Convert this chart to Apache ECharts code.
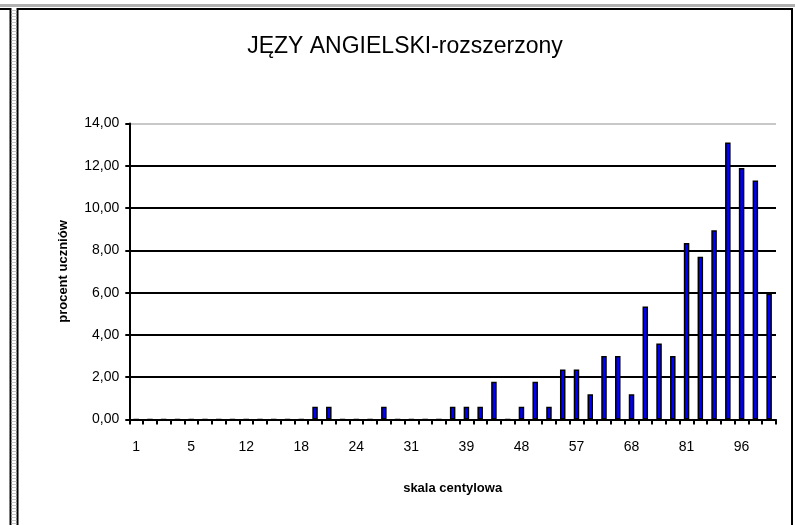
<!DOCTYPE html>
<html>
<head>
<meta charset="utf-8">
<script src="https://cdn.jsdelivr.net/npm/echarts@6/dist/echarts.min.js"></script>
<style>
html,body{margin:0;padding:0;background:#fff;}
#chart{width:795px;height:525px;}
</style>
</head>
<body>
<div id="chart"></div>
<script>
// Category labels (percentile scale); only every 4th is shown on the axis
const categories = ['1','2','3','4','5','7','8','10','12','13','15','16','18','19','21','22','24','26','27','29','31','33','35','37','39','41','43','46','48','50','52','55','57','60','63','65','68','71','75','78','81','85','89','92','96','98','99'];
// Percent of students per category
const values = [0,0,0,0,0,0,0,0,0,0,0,0,0,0.60,0.60,0,0,0,0.60,0,0,0,0,0.60,0.60,0.60,1.78,0,0.60,1.78,0.60,2.37,2.37,1.19,3.00,3.00,1.19,5.35,3.60,3.00,8.35,7.70,8.95,13.10,11.90,11.30,5.95];
const yTicks = [0,2,4,6,8,10,12,14];

const chart = echarts.init(document.getElementById('chart'));
const font = '"Liberation Sans", Arial, sans-serif';
chart.setOption({
  backgroundColor: '#fff',
  animation: false,
  title: {
    text: 'JĘZY ANGIELSKI-rozszerzony',
    left: 400, top: 30, textAlign: 'center',
    textStyle: {fontFamily: font, fontSize: 23, fontWeight: 'normal', color: '#000'}
  },
  grid: {left: 129.3, right: 19, top: 123.5, bottom: 105.5},
  xAxis: {
    type: 'category',
    data: categories,
    boundaryGap: true,
    axisLine: {lineStyle: {color: '#000', width: 2}},
    axisTick: {show: true, interval: 0, length: 5, lineStyle: {color: '#000', width: 2}},
    axisLabel: {interval: 3, margin: 21, fontFamily: font, fontSize: 14, color: '#000'},
    name: 'skala centylowa',
    nameLocation: 'middle',
    nameGap: 62,
    nameTextStyle: {fontFamily: font, fontSize: 13, fontWeight: 'bold', color: '#000'}
  },
  yAxis: {
    type: 'value',
    min: yTicks[0], max: yTicks[yTicks.length-1], interval: 2,
    axisLine: {show: true, lineStyle: {color: '#000', width: 2}},
    axisTick: {show: true, length: 4, lineStyle: {color: '#000', width: 2}},
    axisLabel: {margin: 10, fontFamily: font, fontSize: 14, color: '#000',
      formatter: v => v.toFixed(2).replace('.', ',')},
    splitLine: {show: true, lineStyle: {color: ['#000','#000','#000','#000','#000','#000','#000','#c8c8c8'], width: 2}},
    name: 'procent uczniów',
    nameLocation: 'middle',
    nameGap: 59,
    nameTextStyle: {fontFamily: font, fontSize: 13, fontWeight: 'bold', color: '#000'}
  },
  series: [{
    type: 'bar',
    data: values,
    barWidth: '40%',
    itemStyle: {color: '#0000ff', borderColor: '#000', borderWidth: 1.5}
  }],
  graphic: [
    {type: 'line', shape: {x1: 0, y1: 5.5, x2: 795, y2: 5.5}, style: {stroke: '#b0b0b0', lineWidth: 3}, silent: true},
    {type: 'rect', shape: {x: 17.5, y: 9, width: 774.5, height: 530}, style: {fill: null, stroke: '#000', lineWidth: 2}, silent: true},
    {type: 'line', shape: {x1: 10.5, y1: 8, x2: 10.5, y2: 525}, style: {stroke: '#000', lineWidth: 2}, silent: true},
    {type: 'line', shape: {x1: 14, y1: 10, x2: 14, y2: 525}, style: {stroke: '#c8c8c8', lineWidth: 5, lineDash: [1, 2]}, silent: true},
    {type: 'line', shape: {x1: 0, y1: 9, x2: 10, y2: 9}, style: {stroke: '#000', lineWidth: 2}, silent: true}
  ]
});
</script>
</body>
</html>
